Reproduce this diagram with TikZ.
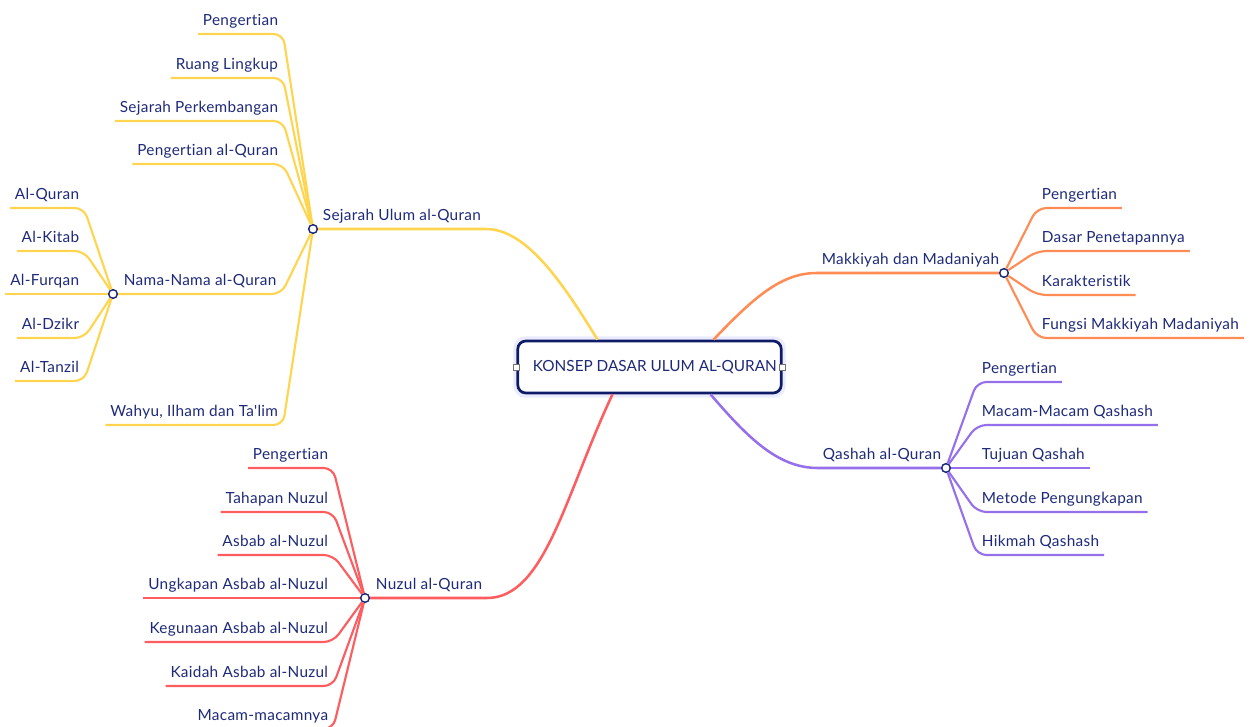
\documentclass[tikz,border=0pt]{standalone}
\usepackage{fontspec}
\setmainfont{Lato}[Ligatures=NoCommon]
\newfontfamily\leaffont{Lato}[Ligatures=NoCommon,LetterSpace=2]
\usetikzlibrary{calc}

\definecolor{ink}{RGB}{30,42,120}
\definecolor{boxline}{RGB}{14,28,104}
\definecolor{ylw}{RGB}{255,213,80}
\definecolor{org}{RGB}{255,140,85}
\definecolor{rdd}{RGB}{255,92,95}
\definecolor{prp}{RGB}{150,112,235}

\begin{document}
\begin{tikzpicture}[
  x=0.75pt,y=-0.75pt,
  lbl/.style={font=\leaffont\fontsize{11.5}{13}\selectfont,text=ink,text height=8pt,text depth=2.5pt,inner xsep=3.5pt,inner ysep=4pt},
  hub/.style={circle,draw=ink,fill=white,line width=1.1pt,minimum size=6.5pt,inner sep=0pt},
  handle/.style={rectangle,draw=black!55,fill=white,line width=0.5pt,minimum size=4.5pt,inner sep=0pt},
  center/.style={rectangle,rounded corners=6pt,draw=boxline,line width=2pt,fill=white,
    minimum width=197pt,minimum height=39pt,font=\fontsize{11.5}{13}\selectfont,text=ink},
  branch/.style={line width=1.9pt},
  twig/.style={line width=1.6pt,rounded corners=7pt},
]
\useasboundingbox (0,0) rectangle (1254,727);

% central topic
\draw[blue!8,line width=4pt,rounded corners=7pt] (516,339) rectangle (783,395);
\node[center] (konsep) at (649.5,367) {\hspace{8pt}KONSEP DASAR ULUM AL-QURAN};
\node[handle] (hl) at (konsep.west) {};
\node[handle] (hr) at (konsep.east) {};

% hubs
\node[hub] (sejarah) at (313,229) {};
\node[hub] (nama) at (113,294) {};
\node[hub] (makkiyah) at (1004,273) {};
\node[hub] (qashah) at (946,468) {};
\node[hub] (nuzul) at (365,598) {};

\node[lbl,anchor=south west] (sejlbl) at ($(sejarah)+(5,0)$) {Sejarah Ulum al-Quran};
\node[lbl,anchor=south west] (namlbl) at ($(nama)+(6,0)$) {Nama-Nama al-Quran};
\node[lbl,anchor=south east] (maklbl) at (makkiyah) {Makkiyah dan Madaniyah};
\node[lbl,anchor=south east] (qaslbl) at (qashah) {Qashah al-Quran};
\node[lbl,anchor=south west] (nuzlbl) at ($(nuzul)+(6,0)$) {Nuzul al-Quran};

% main branches
\draw[branch,ylw] ($(konsep.north)+(-52,0)$) .. controls (560,278) and (525,229) .. (sejlbl.south east) -- (sejarah);
\draw[branch,org] ($(konsep.north)+(64,0)$) .. controls (755,296) and (782,273) .. (maklbl.south west) -- (makkiyah);
\draw[branch,prp] ($(konsep.south)+(61,0)$) .. controls (748,438) and (778,468) .. (qaslbl.south west) -- (qashah);
\draw[branch,rdd] ($(konsep.south)+(-37,0)$) .. controls (565,495) and (545,598) .. (nuzlbl.south east) -- (nuzul);

% Sejarah Ulum al-Quran
\foreach \name/\yy/\txt in {sj1/34/Pengertian,sj2/78/Ruang Lingkup,sj3/121/Sejarah Perkembangan,sj4/164/Pengertian al-Quran}{
  \node[lbl,anchor=south east] (\name) at (283,\yy) {\txt};
  \draw[twig,ylw] (\name.south west) -- (\name.south east) -- (sejarah);
}
\node[lbl,anchor=south east] (sj6) at (283,425) {Wahyu, Ilham dan Ta'lim};
\draw[twig,ylw] (sj6.south west) -- (sj6.south east) -- (sejarah);
\draw[twig,ylw] (nama) -- (namlbl.south east) -- (sejarah);

% Nama-Nama al-Quran
\foreach \name/\yy/\txt in {nq1/208/Al-Quran,nq2/251/Al-Kitab,nq3/294/Al-Furqan,nq4/338/Al-Dzikr,nq5/381/Al-Tanzil}{
  \node[lbl,anchor=south east] (\name) at (84,\yy) {\txt};
  \draw[twig,ylw] (\name.south west) -- (\name.south east) -- (nama);
}

% Makkiyah dan Madaniyah
\foreach \name/\yy/\txt in {mk1/208/Pengertian,mk2/251/Dasar Penetapannya,mk3/295/Karakteristik,mk4/338/Fungsi Makkiyah Madaniyah}{
  \node[lbl,anchor=south west] (\name) at (1037,\yy) {\txt};
  \draw[twig,org] (makkiyah) -- (\name.south west) -- (\name.south east);
}

% Qashah al-Quran
\foreach \name/\yy/\txt in {qs1/382/Pengertian,qs2/425/Macam-Macam Qashash,qs3/468/Tujuan Qashah,qs4/512/Metode Pengungkapan,qs5/555/Hikmah Qashash}{
  \node[lbl,anchor=south west] (\name) at (977,\yy) {\txt};
  \draw[twig,prp] (qashah) -- (\name.south west) -- (\name.south east);
}

% Nuzul al-Quran
\foreach \name/\yy/\txt in {nz1/468/Pengertian,nz2/512/Tahapan Nuzul,nz3/555/Asbab al-Nuzul,nz4/598/Ungkapan Asbab al-Nuzul,nz5/642/Kegunaan Asbab al-Nuzul,nz6/686/Kaidah Asbab al-Nuzul,nz7/729/Macam-macamnya}{
  \node[lbl,anchor=south east] (\name) at (333,\yy) {\txt};
  \draw[twig,rdd] (\name.south west) -- (\name.south east) -- (nuzul);
}

\end{tikzpicture}
\end{document}
